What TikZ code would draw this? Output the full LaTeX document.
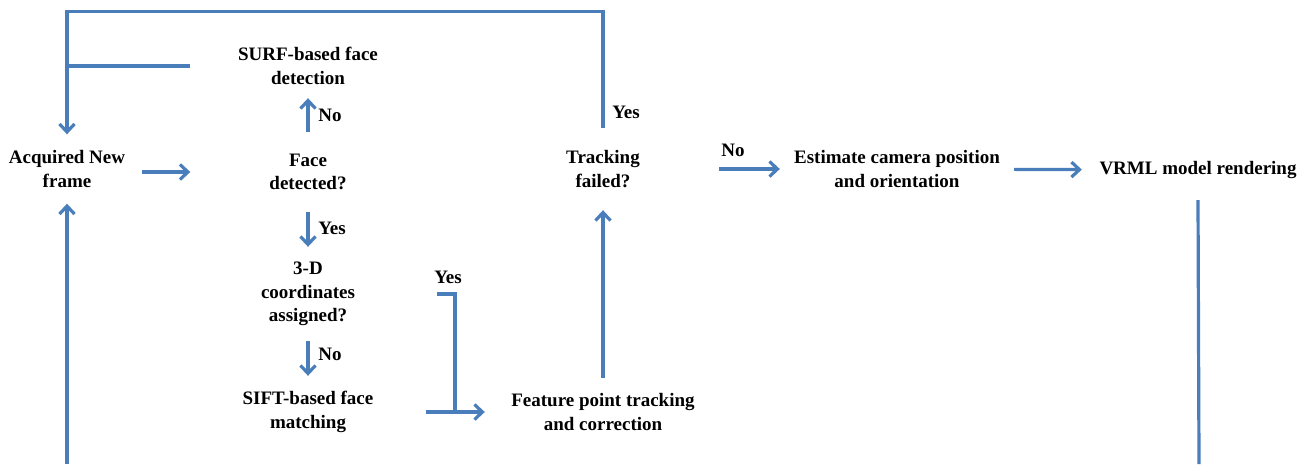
\documentclass[tikz,border=0pt]{standalone}
\usepackage{fontspec}
\setmainfont{Liberation Serif}
\usepackage{xcolor}
\usetikzlibrary{arrows.meta}
\definecolor{flowblue}{RGB}{74,126,187}

\begin{document}
\begin{tikzpicture}[
            x=1pt, y=-1pt,
            every node/.style = {font=\fontsize{19}{23.5}\selectfont\bfseries, align=center, inner sep=0pt},
            step col/.style = {minimum width=235pt},
            link/.style = {line width=3.2pt, draw=flowblue},
            arrow/.style = {link, -{Straight Barb[length=8pt, width=15pt]}}]
            \useasboundingbox (0,0) rectangle (1311,464);
            % nodes
            \node (acq) [minimum width=150pt, minimum height=69pt] at (67,169) {Acquired New\\frame};
            \node (surf) [step col, minimum height=64pt] at (308,66) {SURF-based face\\detection};
            \node (face) [step col, minimum height=80pt] at (308,172) {Face\\detected?};
            \node (coord) [step col, minimum height=94pt] at (308,294) {3-D\\coordinates\\assigned?};
            \node (sift) [step col, minimum height=72pt] at (308,412) {SIFT-based face\\matching};
            \node (feat) [minimum width=236pt, minimum height=68pt] at (603,412) {Feature point tracking\\and correction};
            \node (track) [minimum width=232pt, minimum height=82pt] at (603,169) {Tracking\\failed?};
            \node (est) [minimum width=234pt] at (897,169) {Estimate camera position\\and orientation};
            \node (vrml) [minimum width=232pt, minimum height=60pt] at (1198,170) {VRML model rendering};
            \coordinate (join) at (455,410);
            \coordinate (yesin) at (437,294);
            \coordinate (botL) at (67,464);
            \coordinate (botR) at (1199,464);
            % connections
            \draw [arrow] (acq.east |- face) -- (face);
            \draw [arrow] (face) -- (surf);
            \draw [arrow] (face) -- (coord);
            \draw [arrow] (coord) -- (sift);
            \draw [arrow] (sift) -- (feat);
            \draw [link] (yesin) -| (join);
            \draw [arrow] (feat) -- (track);
            \draw [arrow] (track.north) -- ++(0,-116) -| (acq.north);
            \draw [link] (surf.west) -- (surf.west -| acq.north);
            \draw [arrow] (track) -- (est);
            \draw [arrow] (est) -- (vrml);
            \draw [link] (vrml.south) -- (botR);
            \draw [arrow] (botL) -- (acq.south);
            % labels
            \node (no1) at (330,115) {No};
            \node (yes1) at (332,228) {Yes};
            \node (no2) at (330,354) {No};
            \node (yes2) at (448,277) {Yes};
            \node (yes3) at (626,112) {Yes};
            \node (no3) at (733,150) {No};
\end{tikzpicture}
\end{document}
